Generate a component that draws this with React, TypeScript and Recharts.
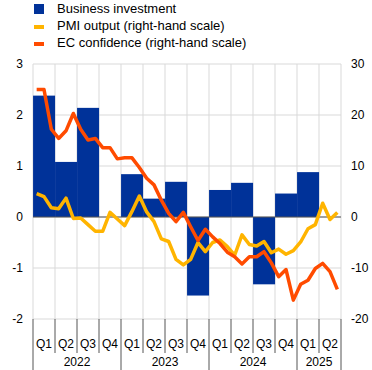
import React from 'react';
import { ComposedChart, Bar, Line, XAxis, YAxis, CartesianGrid, ReferenceLine } from 'recharts';

const quarters = ['Q1', 'Q2', 'Q3', 'Q4', 'Q1', 'Q2', 'Q3', 'Q4', 'Q1', 'Q2', 'Q3', 'Q4', 'Q1', 'Q2'];
const quarterYears = ['2022', '2022', '2022', '2022', '2023', '2023', '2023', '2023', '2024', '2024', '2024', '2024', '2025', '2025'];

// quarterly, left-hand scale
const businessInvestment = [2.38, 1.08, 2.14, 0, 0.84, 0.36, 0.69, -1.54, 0.53, 0.67, -1.32, 0.46, 0.88, null];

// monthly, right-hand scale
const pmiOutput = [
  4.6, 4.0, 1.8, 1.6, 3.7, -0.3, -0.2, -1.5, -2.8, -2.8, 0.9, -0.4,
  -1.7, 1.1, 4.1, 1.0, -0.9, -4.3, -4.8, -8.3, -9.4, -8.3, -5.0, -6.8,
  -5.0, -4.5, -5.8, -7.5, -3.5, -5.4, -5.7, -4.8, -7.0, -6.3, -7.3, -6.6,
  -4.9, -2.3, -1.5, 2.7, -0.5, 0.9,
];
const ecConfidence = [
  25.0, 25.0, 17.2, 15.4, 16.9, 20.3, 17.2, 15.1, 15.4, 13.6, 13.6, 11.4,
  11.6, 11.6, 9.7, 7.6, 6.3, 3.3, 0.7, -0.9, 0.9, -1.9, -4.6, -2.4,
  -3.9, -5.2, -6.9, -7.8, -9.2, -7.8, -7.8, -6.8, -9.0, -11.7, -10.3, -16.3,
  -13.2, -12.4, -10.1, -9.1, -10.7, -14.2,
];

const leftTicks = [-2, -1, 0, 1, 2, 3];
const rightTicks = [-20, -10, 0, 10, 20, 30];

const BLUE = '#003299';
const YELLOW = '#ffb400';
const ORANGE = '#ff4b00';
const FONT = '"Liberation Sans", Arial, sans-serif';

const W = 372;
const H = 370;
const PLOT_LEFT = 33;
const PLOT_RIGHT = 341;
const PLOT_TOP = 64;
const PLOT_BOTTOM = 319;
const QW = (PLOT_RIGHT - PLOT_LEFT) / quarters.length;

const data = pmiOutput.map((pmi, i) => ({
  m: i + 0.5,
  pmi,
  ec: ecConfidence[i],
  bi: i % 3 === 1 ? businessInvestment[Math.floor(i / 3)] : null,
}));

const boundaryTicks = quarters.map((_, q) => q * 3).concat(quarters.length * 3);

// bar spans the whole quarter, centred on the quarter's middle month
function QuarterBar(p: any) {
  if (p.height == null || p.width == null) return null;
  const cx = p.x + p.width / 2;
  const y = Math.min(p.y, p.y + p.height);
  const h = Math.abs(p.height);
  return <rect x={cx - QW / 2} y={y} width={QW} height={h} fill={BLUE} />;
}

function QuarterTick({ x, payload }: any) {
  const q = Math.round(payload.value / 3);
  const yearEdge = q === 0 || q === quarters.length || quarterYears[q] !== quarterYears[q - 1];
  const nInYear = q < quarters.length ? quarterYears.filter((y) => y === quarterYears[q]).length : 0;
  return (
    <g>
      <line x1={x} x2={x} y1={PLOT_BOTTOM} y2={yearEdge ? H : 353} stroke="#555" strokeWidth={1} />
      {q < quarters.length && (
        <text x={x + QW / 2} y={348} textAnchor="middle" fontSize={12} fill="#000" fontFamily={FONT}>
          {quarters[q]}
        </text>
      )}
      {q < quarters.length && yearEdge && (
        <text x={x + (nInYear * QW) / 2} y={366} textAnchor="middle" fontSize={12} fill="#000" fontFamily={FONT}>
          {quarterYears[q]}
        </text>
      )}
    </g>
  );
}

const legendItems = [
  { label: 'Business investment', color: BLUE, h: 10 },
  { label: 'PMI output (right-hand scale)', color: YELLOW, h: 4 },
  { label: 'EC confidence (right-hand scale)', color: ORANGE, h: 4 },
];

export default function App() {
  return (
    <div style={{ position: 'absolute', left: 0, top: 0, width: W, height: H, background: '#fff', fontFamily: FONT }}>
      <div style={{ position: 'absolute', left: 0, top: 0, fontSize: 13, lineHeight: '17px', color: '#000' }}>
        {legendItems.map((it) => (
          <div key={it.label} style={{ position: 'relative', height: 17, paddingLeft: 57, whiteSpace: 'nowrap' }}>
            <span
              style={{
                position: 'absolute',
                left: 34,
                top: it.h === 10 ? 4 : 4 + (10 - it.h) / 2 + 0.5,
                width: 10,
                height: it.h,
                background: it.color,
              }}
            />
            {it.label}
          </div>
        ))}
      </div>
      <ComposedChart
        width={W}
        height={H}
        data={data}
        margin={{ top: PLOT_TOP, right: 0, bottom: 0, left: 0 }}
        style={{ position: 'absolute', left: 0, top: 0 }}
      >
        <CartesianGrid yAxisId="left" stroke="#d9d9d9" strokeWidth={1} />
        <XAxis
          dataKey="m"
          type="number"
          domain={[0, quarters.length * 3]}
          ticks={boundaryTicks}
          interval={0}
          tick={<QuarterTick />}
          axisLine={false}
          tickLine={false}
          height={H - PLOT_BOTTOM}
        />
        <YAxis
          yAxisId="left"
          domain={[-2, 3]}
          ticks={leftTicks}
          axisLine={false}
          tickLine={false}
          tickMargin={4}
          width={PLOT_LEFT}
          tick={{ fontSize: 12, fill: '#000', fontFamily: FONT }}
        />
        <YAxis
          yAxisId="right"
          orientation="right"
          domain={[-20, 30]}
          ticks={rightTicks}
          axisLine={false}
          tickLine={false}
          tickMargin={4}
          width={W - PLOT_RIGHT}
          tick={{ fontSize: 12, fill: '#000', fontFamily: FONT, textAnchor: 'start' }}
        />
        <Bar yAxisId="left" dataKey="bi" fill={BLUE} shape={<QuarterBar />} isAnimationActive={false} />
        <ReferenceLine yAxisId="left" y={0} stroke="#555" strokeWidth={1} />
        <Line
          yAxisId="right"
          dataKey="pmi"
          type="linear"
          stroke={YELLOW}
          strokeWidth={3.5}
          dot={false}
          strokeLinejoin="round"
          isAnimationActive={false}
        />
        <Line
          yAxisId="right"
          dataKey="ec"
          type="linear"
          stroke={ORANGE}
          strokeWidth={3.5}
          dot={false}
          strokeLinejoin="round"
          isAnimationActive={false}
        />
      </ComposedChart>
    </div>
  );
}
